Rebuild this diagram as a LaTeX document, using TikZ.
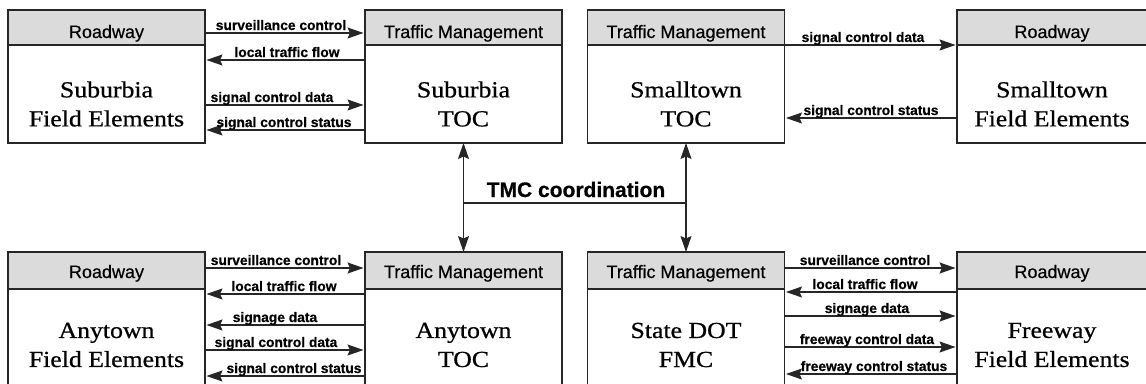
\documentclass[tikz,border=0pt]{standalone}
\usepackage{fontspec}
\setmainfont{Liberation Serif}
\newfontfamily\hdrfont[FakeBold=0.4]{Liberation Sans}
\newfontfamily\labfont[FakeBold=0.6]{Liberation Sans Bold}
\newfontfamily\bodyfont[FakeStretch=1.12,FakeBold=0.7]{Liberation Serif}
\usetikzlibrary{arrows.meta}
\tikzset{
  box/.style={draw=black!85, line width=1.3pt, minimum width=197pt, minimum height=133pt, inner sep=0pt, outer sep=0pt},
  hdr/.style={draw=black!85, fill=black!14, line width=1.3pt, minimum width=197pt, minimum height=35pt, inner sep=0pt, outer sep=0pt, anchor=north},
  hdrtext/.style={font=\hdrfont\fontsize{18}{18}\selectfont, anchor=base, inner sep=0pt},
  bodytext/.style={font=\bodyfont\fontsize{23}{29}\selectfont, align=center, inner sep=0pt},
  tipa/.tip={Stealth[length=16pt,width=11pt,inset=2.5pt]},
  flow/.style={line width=1.1pt, draw=black!85, -tipa, shorten >=1.5pt},
  twoway/.style={line width=1.1pt, draw=black!85, tipa-tipa},
  plain/.style={line width=1.1pt, draw=black!85},
  flab/.style={font=\labfont\fontsize{13.8}{13.8}\selectfont, anchor=base, inner sep=0pt},
  tmclab/.style={font=\labfont\fontsize{21}{21}\selectfont, anchor=base, inner sep=0pt},
}
\begin{document}
\begin{tikzpicture}[x=1pt,y=-1pt]
\useasboundingbox (0,0) rectangle (1146,383);
\clip (0,0) rectangle (1146,383);
% ---- boxes, top row
\node[box] (subf) at (106.5,76.5) {};
\node[hdr] (subfh) at (subf.north) {};
\node[hdrtext] at ([yshift=7pt]subfh.south) {Roadway};
\node[bodytext] at ([yshift=-94pt]subf.north) {Suburbia\\Field Elements};

\node[box] (subt) at (463.5,76.5) {};
\node[hdr] (subth) at (subt.north) {};
\node[hdrtext] at ([yshift=7pt]subth.south) {Traffic Management};
\node[bodytext] at ([yshift=-94pt]subt.north) {Suburbia\\TOC};

\node[box] (smt) at (686,76.5) {};
\node[hdr] (smth) at (smt.north) {};
\node[hdrtext] at ([yshift=7pt]smth.south) {Traffic Management};
\node[bodytext] at ([yshift=-94pt]smt.north) {Smalltown\\TOC};

\node[box, minimum width=190pt] (smf) at (1052,76.5) {};
\node[hdr, minimum width=190pt] (smfh) at (smf.north) {};
\node[hdrtext] at ([yshift=7pt]smfh.south) {Roadway};
\node[bodytext] at ([yshift=-94pt]smf.north) {Smalltown\\Field Elements};

% ---- boxes, bottom row
\node[box, minimum height=140pt] (anyf) at (106.5,322) {};
\node[hdr, minimum height=37pt] (anyfh) at (anyf.north) {};
\node[hdrtext] at ([yshift=11pt]anyfh.south) {Roadway};
\node[bodytext] at ([yshift=-93pt]anyf.north) {Anytown\\Field Elements};

\node[box, minimum height=140pt] (anyt) at (463.5,322) {};
\node[hdr, minimum height=37pt] (anyth) at (anyt.north) {};
\node[hdrtext] at ([yshift=11pt]anyth.south) {Traffic Management};
\node[bodytext] at ([yshift=-93pt]anyt.north) {Anytown\\TOC};

\node[box, minimum height=140pt] (fmc) at (686,322) {};
\node[hdr, minimum height=37pt] (fmch) at (fmc.north) {};
\node[hdrtext] at ([yshift=11pt]fmch.south) {Traffic Management};
\node[bodytext] at ([yshift=-93pt]fmc.north) {State DOT\\FMC};

\node[box, minimum width=190pt, minimum height=140pt] (fwyf) at (1052,322) {};
\node[hdr, minimum width=190pt, minimum height=37pt] (fwyfh) at (fwyf.north) {};
\node[hdrtext] at ([yshift=11pt]fwyfh.south) {Roadway};
\node[bodytext] at ([yshift=-93pt]fwyf.north) {Freeway\\Field Elements};

% ---- Suburbia flows
\draw[flow] (subf.east |- 0,33) -- (subt.west |- 0,33);
\node[flab] at (281,30) {surveillance control};
\draw[flow] (subt.west |- 0,60) -- (subf.east |- 0,60);
\node[flab] at (287,57) {local traffic flow};
\draw[flow] (subf.east |- 0,105) -- (subt.west |- 0,105);
\node[flab] at (272,102) {signal control data};
\draw[flow] (subt.west |- 0,130) -- (subf.east |- 0,130);
\node[flab] at (284,127) {signal control status};

% ---- Smalltown flows
\draw[flow] (smt.east |- 0,45) -- (smf.west |- 0,45);
\node[flab] at (863,42) {signal control data};
\draw[flow] (smf.west |- 0,118) -- (smt.east |- 0,118);
\node[flab] at (871,115) {signal control status};

% ---- Anytown flows
\draw[flow] (anyf.east |- 0,268) -- (anyt.west |- 0,268);
\node[flab] at (276,265) {surveillance control};
\draw[flow] (anyt.west |- 0,294) -- (anyf.east |- 0,294);
\node[flab] at (284,291) {local traffic flow};
\draw[flow] (anyt.west |- 0,325) -- (anyf.east |- 0,325);
\node[flab] at (275,322) {signage data};
\draw[flow] (anyf.east |- 0,350) -- (anyt.west |- 0,350);
\node[flab] at (276,347) {signal control data};
\draw[flow] (anyt.west |- 0,376) -- (anyf.east |- 0,376);
\node[flab] at (294,373) {signal control status};

% ---- Freeway flows
\draw[flow] (fmc.east |- 0,268) -- (fwyf.west |- 0,268);
\node[flab] at (865,265) {surveillance control};
\draw[flow] (fwyf.west |- 0,292) -- (fmc.east |- 0,292);
\node[flab] at (865,289) {local traffic flow};
\draw[flow] (fmc.east |- 0,316) -- (fwyf.west |- 0,316);
\node[flab] at (867,313) {signage data};
\draw[flow] (fmc.east |- 0,347) -- (fwyf.west |- 0,347);
\node[flab] at (867,344) {freeway control data};
\draw[flow] (fwyf.west |- 0,374) -- (fmc.east |- 0,374);
\node[flab] at (874,371) {freeway control status};

% ---- TMC coordination
\draw[twoway] (subt.south) -- (anyt.north);
\draw[twoway] (smt.south) -- (fmc.north);
\draw[plain] (subt.south |- 0,203) -- (smt.south |- 0,203);
\node[tmclab] at (576,197) {TMC coordination};
\end{tikzpicture}
\end{document}
